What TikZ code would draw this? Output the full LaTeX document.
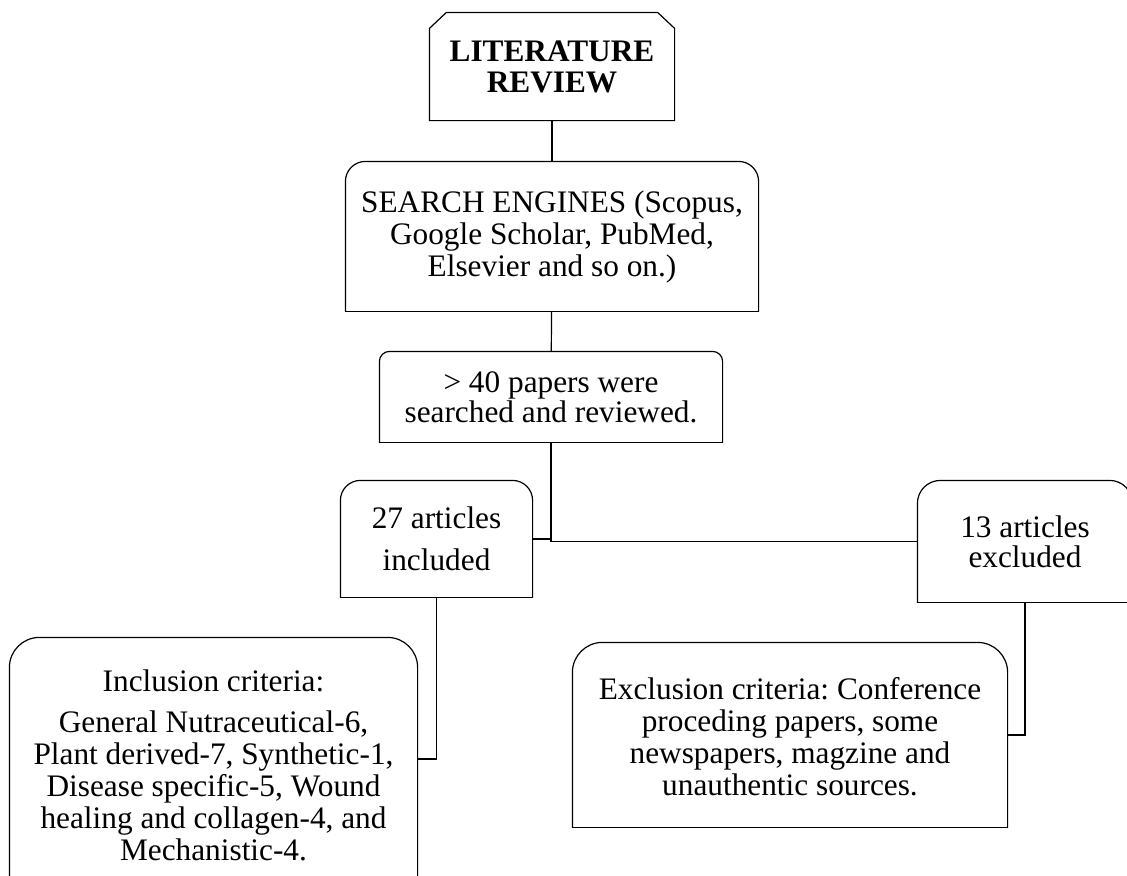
\documentclass[tikz,border=0pt]{standalone}
\usepackage{fontspec}
\setmainfont{Liberation Serif}
\usepackage{tikz}
\usetikzlibrary{calc}
\frenchspacing

\begin{document}
\begin{tikzpicture}[x=0.5pt, y=-0.5pt, line width=0.6pt,
    font=\fontsize{15.65}{16}\selectfont,
    stepbox/.style={inner sep=0pt, align=center}]
    \useasboundingbox (0,0) rectangle (1127,875);
    \clip (0,0) rectangle (1127,875);
    % boxes, centred at pixel positions
    \node[stepbox, minimum width=122pt, minimum height=53.5pt, font=\fontsize{15.65}{16}\selectfont\bfseries] (lit) at (552,66.5) {LITERATURE\\[-0.5pt]REVIEW};
    \node[stepbox, minimum width=206pt, minimum height=74.5pt] (search) at (552,236.5) {SEARCH ENGINES (Scopus,\\Google Scholar, PubMed,\\Elsevier and so on.)};
    \node[stepbox, minimum width=171pt, minimum height=45pt] (papers) at (551,397) {> 40 papers were\\[-1pt]searched and reviewed.};
    \node[stepbox, minimum width=95.5pt, minimum height=58pt] (incl) at (436.5,539) {27 articles\\[5pt]included};
    \node[stepbox, minimum width=107pt, minimum height=60.5pt] (excl) at (1025,541.5) {13 articles\\[-1pt]excluded};
    \node[stepbox, minimum width=203.5pt, minimum height=121pt] (incrit) at (213.5,759) {\rule{0pt}{16.7pt}Inclusion criteria:\\[4.5pt]General Nutraceutical-6,\\Plant derived-7, Synthetic-1,\\Disease specific-5, Wound\\healing and collagen-4, and\\Mechanistic-4.};
    \node[stepbox, minimum width=217pt, minimum height=92pt] (excrit) at (790,735) {\rule{0pt}{13pt}Exclusion criteria: Conference\\proceding papers, some\\newspapers, magzine and\\unauthentic sources.};
    % outlines
    \draw (lit.south west) -- ([yshift=-8pt]lit.north west) -- ([xshift=8.5pt]lit.north west)
        -- ([xshift=-8.5pt]lit.north east) -- ([yshift=-8pt]lit.north east) -- (lit.south east) -- cycle;
    \foreach \n/\r in {search/10pt, papers/5pt, incl/10pt, excl/11.5pt, incrit/15pt, excrit/15pt} {
        \draw[rounded corners=\r] (\n.south west) -- (\n.north west) -- (\n.north east) -- (\n.south east);
        \draw[line cap=rect] (\n.south west) -- (\n.south east);
    }
    % connectors
    \draw (lit) -- (search);
    \draw (search) -- (papers);
    \draw (papers.south) |- (excl.west);
    \draw (incl.east) -- (incl.east -| papers.south);
    \draw (incl.south) |- (incrit.east);
    \draw (excl.south) |- (excrit.east);
\end{tikzpicture}
\end{document}
